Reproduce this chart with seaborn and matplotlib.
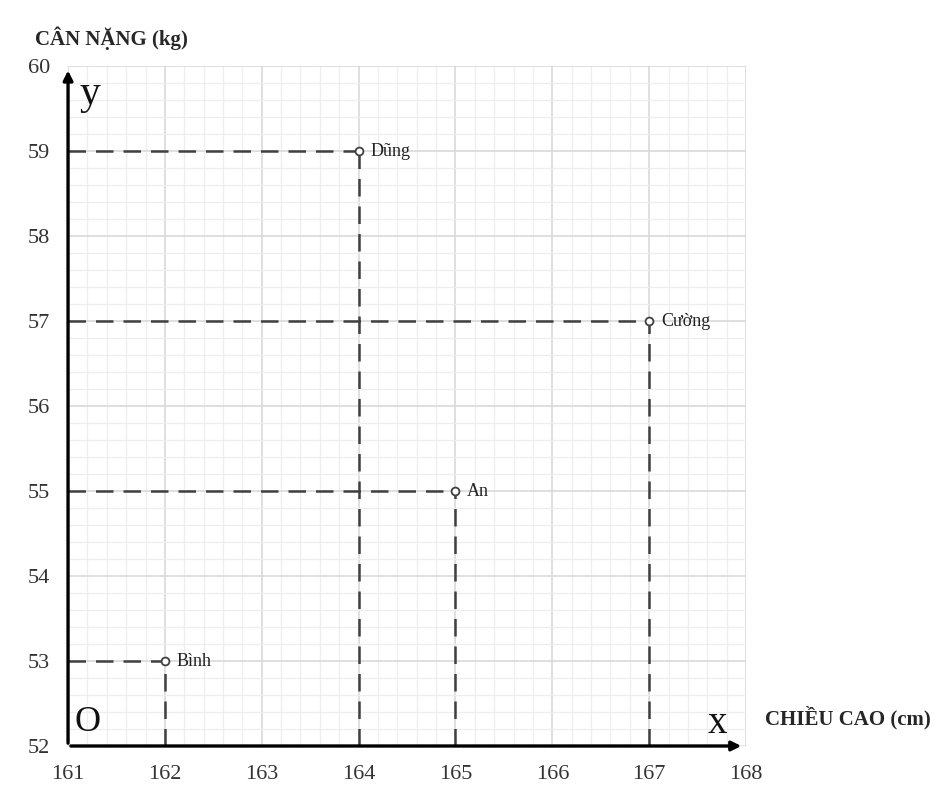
import numpy as np
import pandas as pd
import matplotlib.pyplot as plt
from matplotlib.ticker import MultipleLocator
import seaborn as sns

# data
names = ["An", "Bình", "Cường", "Dũng"]
height_cm = [165, 162, 167, 164]
weight_kg = [55, 53, 57, 59]
x_ticks = [161, 162, 163, 164, 165, 166, 167, 168]
y_ticks = [52, 53, 54, 55, 56, 57, 58, 59, 60]

df = pd.DataFrame({"name": names, "height": height_cm, "weight": weight_kg})

sns.set_style("white")
plt.rcParams["font.family"] = ["Liberation Serif", "DejaVu Serif"]

fig = plt.figure(figsize=(9.49, 8), dpi=100)
ax = fig.add_axes([0.0717, 0.0675, 0.7144, 0.85])

x0, x1 = x_ticks[0], x_ticks[-1]
y0, y1 = y_ticks[0], y_ticks[-1]
ax.set_xlim(x0, x1)
ax.set_ylim(y0, y1)

# grid
ax.xaxis.set_major_locator(MultipleLocator(1))
ax.yaxis.set_major_locator(MultipleLocator(1))
ax.xaxis.set_minor_locator(MultipleLocator(0.2))
ax.yaxis.set_minor_locator(MultipleLocator(0.2))
ax.grid(which="major", color="#d9d9d9", lw=1.2)
ax.grid(which="minor", color="#eeeeee", lw=0.9)
ax.set_axisbelow(True)

# dashed guide lines
for _, r in df.iterrows():
    ax.plot([x0, r.height], [r.weight, r.weight], ls=(0, (7, 4)), color="#404040", lw=1.8, zorder=3)
    ax.plot([r.height, r.height], [y0, r.weight], ls=(0, (7, 4)), color="#404040", lw=1.8, zorder=3)

sns.scatterplot(data=df, x="height", y="weight", ax=ax, s=32, marker="o",
                facecolor="white", edgecolor="#404040", linewidth=1.3, zorder=4, legend=False)

for _, r in df.iterrows():
    ax.text(r.height + 0.12, r.weight, r["name"], fontsize=13, va="center", ha="left", color="#222222")

# axes with arrows
for s in ["top", "right", "left", "bottom"]:
    ax.spines[s].set_visible(False)
ax.annotate("", xy=(x1 - 0.02, y0), xytext=(x0, y0),
            arrowprops=dict(arrowstyle="-|>", color="black", lw=2.4, mutation_scale=14), zorder=5)
ax.annotate("", xy=(x0, y1 - 0.02), xytext=(x0, y0),
            arrowprops=dict(arrowstyle="-|>", color="black", lw=2.4, mutation_scale=14), zorder=5)

ax.set_xticks(x_ticks)
ax.set_yticks(y_ticks)
ax.tick_params(axis="both", which="both", length=0, labelsize=16, colors="#333333")
ax.tick_params(axis="x", pad=14)
ax.tick_params(axis="y", pad=13)
ax.set_xlabel("")
ax.set_ylabel("")

ax.text(161.12, 59.45, "y", fontsize=30, ha="left", va="bottom", color="#111111")
ax.text(161.2, 52.08, "O", fontsize=26, ha="center", va="bottom", color="#111111")
ax.text(167.7, 52.05, "x", fontsize=28, ha="center", va="bottom", color="#111111")

fig.text(35 / 949, 1 - 38 / 800, "CÂN NẶNG (kg)", fontsize=15, fontweight="bold", ha="left", va="center")
fig.text(765 / 949, 1 - 718 / 800, "CHIỀU CAO (cm)", fontsize=15, fontweight="bold", ha="left", va="center")

fig.savefig("out.png", dpi=100)
